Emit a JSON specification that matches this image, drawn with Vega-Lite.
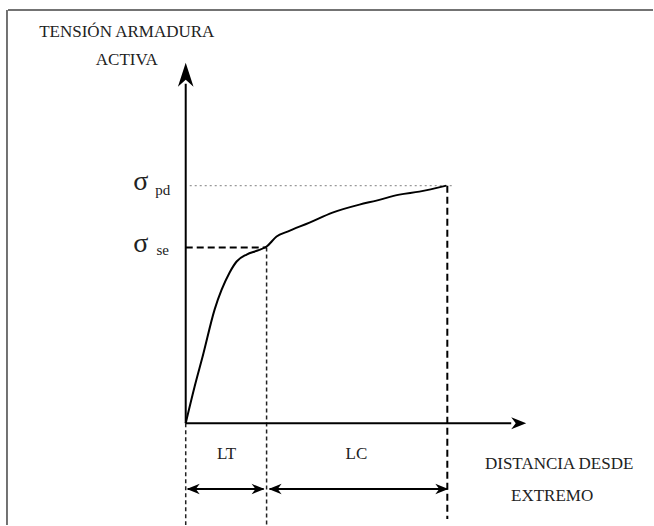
{
  "$schema": "https://vega.github.io/schema/vega-lite/v6.json",
  "width": 654,
  "height": 526,
  "padding": 0,
  "autosize": {"type": "fit", "contains": "padding"},
  "background": "white",
  "config": {"view": {"stroke": null}},
  "datasets": {
    "curve": [
      {"d": 0, "t": 0}, {"d": 9, "t": 37}, {"d": 17, "t": 67}, {"d": 29, "t": 114},
      {"d": 44, "t": 151}, {"d": 51, "t": 162}, {"d": 61, "t": 169}, {"d": 72, "t": 173},
      {"d": 81, "t": 177}, {"d": 91, "t": 187}, {"d": 102, "t": 192}, {"d": 124, "t": 201},
      {"d": 147, "t": 211}, {"d": 174, "t": 219}, {"d": 191, "t": 223}, {"d": 214, "t": 229},
      {"d": 234, "t": 232}, {"d": 261, "t": 238}
    ],
    "frame": [
      {"x": -178, "x2": 468, "y": 414, "y2": 414},
      {"x": -179, "x2": -179, "y": 414, "y2": -102}
    ],
    "axes": [
      {"x": 0, "x2": 0, "y": 0, "y2": 340},
      {"x": 0, "x2": 326, "y": 0, "y2": 0},
      {"x": 2, "x2": 78, "y": -66, "y2": -66},
      {"x": 84, "x2": 262, "y": -66, "y2": -66}
    ],
    "dashedThick": [
      {"x": 0, "x2": 81, "y": 176, "y2": 176},
      {"x": 262, "x2": 262, "y": 238, "y2": -96}
    ],
    "dashedThin": [
      {"x": 81, "x2": 81, "y": 176, "y2": -102},
      {"x": 0, "x2": 0, "y": 0, "y2": -102}
    ],
    "dotted": [
      {"x": 4, "x2": 269, "y": 238, "y2": 238}
    ],
    "yArrow": [{"x": 0, "y": 349}],
    "xArrow": [{"x": 333.5, "y": 0}],
    "dimArrows": [
      {"x": 7.5, "y": -66, "dir": "left"},
      {"x": 72.5, "y": -66, "dir": "right"},
      {"x": 89.5, "y": -66, "dir": "left"},
      {"x": 256.5, "y": -66, "dir": "right"}
    ],
    "labels": [
      {"x": -59, "y": 392, "label": "TENSIÓN ARMADURA"},
      {"x": -59, "y": 364, "label": "ACTIVA"},
      {"x": 41, "y": -31, "label": "LT"},
      {"x": 171, "y": -31, "label": "LC"},
      {"x": 374, "y": -41, "label": "DISTANCIA DESDE"},
      {"x": 367, "y": -73, "label": "EXTREMO"}
    ],
    "sigmas": [
      {"x": -45, "y": 242, "label": "σ"},
      {"x": -45, "y": 180, "label": "σ"}
    ],
    "subs": [
      {"x": -23, "y": 234, "label": "pd"},
      {"x": -23, "y": 174, "label": "se"}
    ]
  },
  "layer": [
    {
      "data": {"name": "frame"},
      "mark": {"type": "rule", "color": "#444", "strokeWidth": 1.5},
      "encoding": {
        "x": {"field": "x", "type": "quantitative", "scale": {"domain": [-186, 468], "nice": false, "zero": false}, "axis": null},
        "x2": {"field": "x2"},
        "y": {"field": "y", "type": "quantitative", "scale": {"domain": [-102, 424], "nice": false, "zero": false}, "axis": null},
        "y2": {"field": "y2"}
      }
    },
    {
      "data": {"name": "dotted"},
      "mark": {"type": "rule", "color": "#999", "strokeWidth": 1.2, "strokeDash": [2, 3]},
      "encoding": {
        "x": {"field": "x", "type": "quantitative"}, "x2": {"field": "x2"},
        "y": {"field": "y", "type": "quantitative"}, "y2": {"field": "y2"}
      }
    },
    {
      "data": {"name": "dashedThin"},
      "mark": {"type": "rule", "color": "#222", "strokeWidth": 1.5, "strokeDash": [4, 3]},
      "encoding": {
        "x": {"field": "x", "type": "quantitative"}, "x2": {"field": "x2"},
        "y": {"field": "y", "type": "quantitative"}, "y2": {"field": "y2"}
      }
    },
    {
      "data": {"name": "dashedThick"},
      "mark": {"type": "rule", "color": "black", "strokeWidth": 2, "strokeDash": [7, 4]},
      "encoding": {
        "x": {"field": "x", "type": "quantitative"}, "x2": {"field": "x2"},
        "y": {"field": "y", "type": "quantitative"}, "y2": {"field": "y2"}
      }
    },
    {
      "data": {"name": "axes"},
      "mark": {"type": "rule", "color": "black", "strokeWidth": 2},
      "encoding": {
        "x": {"field": "x", "type": "quantitative"}, "x2": {"field": "x2"},
        "y": {"field": "y", "type": "quantitative"}, "y2": {"field": "y2"}
      }
    },
    {
      "data": {"name": "curve"},
      "mark": {"type": "line", "color": "black", "strokeWidth": 2, "interpolate": "monotone"},
      "encoding": {
        "x": {"field": "d", "type": "quantitative"},
        "y": {"field": "t", "type": "quantitative"},
        "order": {"field": "d"}
      }
    },
    {
      "data": {"name": "yArrow"},
      "mark": {"type": "point", "filled": true, "color": "black", "opacity": 1, "size": 576, "shape": "M0,-1 L0.65,1 L0,0.4 L-0.65,1 Z"},
      "encoding": {
        "x": {"field": "x", "type": "quantitative"},
        "y": {"field": "y", "type": "quantitative"}
      }
    },
    {
      "data": {"name": "xArrow"},
      "mark": {"type": "point", "filled": true, "color": "black", "opacity": 1, "size": 225, "shape": "M1,0 L-1,0.8 L-0.4,0 L-1,-0.8 Z"},
      "encoding": {
        "x": {"field": "x", "type": "quantitative"},
        "y": {"field": "y", "type": "quantitative"}
      }
    },
    {
      "data": {"name": "dimArrows"},
      "mark": {"type": "point", "filled": true, "color": "black", "opacity": 1, "size": 169},
      "encoding": {
        "x": {"field": "x", "type": "quantitative"},
        "y": {"field": "y", "type": "quantitative"},
        "shape": {"field": "dir", "type": "nominal", "legend": null,
          "scale": {"domain": ["left", "right"], "range": ["M-1,0 L1,0.8 L0.4,0 L1,-0.8 Z", "M1,0 L-1,0.8 L-0.4,0 L-1,-0.8 Z"]}}
      }
    },
    {
      "data": {"name": "labels"},
      "mark": {"type": "text", "font": "Liberation Serif", "fontSize": 17, "color": "#222", "align": "center", "baseline": "middle"},
      "encoding": {
        "x": {"field": "x", "type": "quantitative"},
        "y": {"field": "y", "type": "quantitative"},
        "text": {"field": "label"}
      }
    },
    {
      "data": {"name": "sigmas"},
      "mark": {"type": "text", "font": "Liberation Serif", "fontSize": 28, "color": "#222", "align": "center", "baseline": "middle"},
      "encoding": {
        "x": {"field": "x", "type": "quantitative"},
        "y": {"field": "y", "type": "quantitative"},
        "text": {"field": "label"}
      }
    },
    {
      "data": {"name": "subs"},
      "mark": {"type": "text", "font": "Liberation Serif", "fontSize": 15, "color": "#222", "align": "center", "baseline": "middle"},
      "encoding": {
        "x": {"field": "x", "type": "quantitative"},
        "y": {"field": "y", "type": "quantitative"},
        "text": {"field": "label"}
      }
    }
  ]
}
